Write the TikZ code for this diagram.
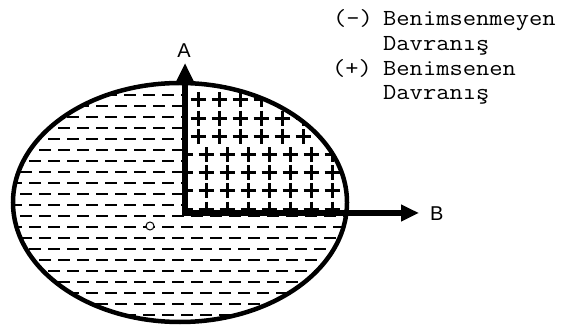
\documentclass[tikz,border=0pt]{standalone}
\usepackage{fontspec}
\newfontfamily\legendfont{Latin Modern Mono}[FakeStretch=1.12]
\newfontfamily\axisfont{Liberation Sans}
\usepackage{tikz}
\usetikzlibrary{positioning, calc, arrows.meta}

\begin{document}
\begin{tikzpicture}[
    x=1pt, y=-1pt,
    axis/.style={-{Triangle[length=18pt,width=16pt]}, line width=5.5pt, line cap=rect},
    rim/.style={line width=4.5pt},
    minusRow/.style={line width=2.7pt, dash pattern=on 12pt off 7pt},
    plusSign/.style={line width=3pt},
    legendtext/.style={font=\legendfont\fontsize{23}{25}\selectfont, inner sep=0pt, anchor=base west},
    axislabel/.style={font=\axisfont\fontsize{20}{24}\selectfont, inner sep=0pt},
  ]
    \useasboundingbox (0,0) rectangle (567,328);

    % Minus field
    \begin{scope}
      \clip (180,202.5) ellipse [x radius=167, y radius=119.5];
      \foreach \k in {-12,...,8} {
        \pgfmathsetmacro{\ph}{mod(\k+12,2)*9}
        \draw[minusRow, dash phase={\ph pt}] (10,227+11*\k) -- (355,227+11*\k);
      }
    \end{scope}

    % Plus field
    \begin{scope}
      \clip (180,202.5) ellipse [x radius=167, y radius=119.5];
      \clip (185,213) rectangle (360,70);
      \fill[white] (185,213) rectangle (360,70);
      \foreach \j in {0,...,6} {
        \pgfmathsetmacro{\xs}{ifthenelse(\j<3,198,206)}
        \pgfmathsetmacro{\yy}{100+18.2*\j}
        \foreach \i in {-1,...,7} {
          \draw[plusSign] (\xs+21*\i-7.5,\yy) -- ++(15,0)
                          (\xs+21*\i,\yy-7.5) -- ++(0,15);
        }
      }
    \end{scope}

    % Rim
    \draw[rim] (180,202.5) ellipse [x radius=167, y radius=119.5];

    % Axes
    \coordinate (O) at (185,213);
    \coordinate (Atip) at (185,63);
    \coordinate (Btip) at (419,213);
    \draw[axis] (O) -- (Atip);
    \draw[axis] (O) -- (Btip);
    \node[axislabel, anchor=base] (A) at (184,58) {A};
    \node[axislabel, anchor=base west] (B) at (430,221) {B};

    % Centre mark
    \node[circle, draw, fill=white, line width=1pt, inner sep=0pt, minimum size=8pt] (centre) at (150,226) {};

    % Legend
    \node[legendtext] (minusKey) at (333,26) {(-)};
    \node[legendtext] (minusText) at (383,26) {Benimsenmeyen};
    \node[legendtext] (minusText2) at (383,51) {Davranış};
    \node[legendtext] (plusKey) at (332,76) {(+)};
    \node[legendtext] (plusText) at (383,76) {Benimsenen};
    \node[legendtext] (plusText2) at (383,100) {Davranış};
  \end{tikzpicture}
\end{document}
